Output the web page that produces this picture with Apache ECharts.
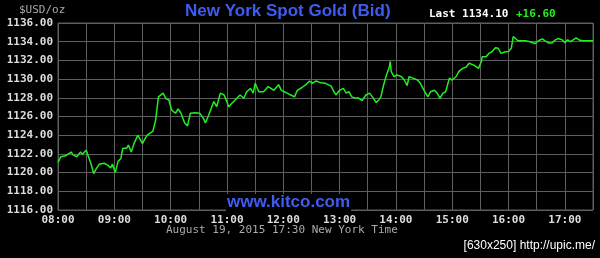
<!DOCTYPE html>
<html>
<head>
<meta charset="utf-8">
<script src="https://cdn.jsdelivr.net/npm/echarts@6/dist/echarts.min.js"></script>
<style>
html,body{margin:0;padding:0;background:#000;}
#c{width:600px;height:258px;}
</style>
</head>
<body>
<div id="c"></div>
<script>
// Times (New York) and bid prices
var times = ["08:00","08:03","08:08","08:14","08:16","08:20","08:24","08:26","08:30","08:32","08:35","08:38","08:41","08:44","08:49","08:53","08:56","08:58",
"09:01","09:04","09:07","09:09","09:13","09:15","09:18","09:21","09:25","09:30","09:32","09:35","09:37","09:41","09:44","09:47","09:52","09:55","09:58",
"10:01","10:05","10:08","10:11","10:15","10:18","10:21","10:26","10:31","10:35","10:37","10:40","10:46","10:49","10:53","10:57",
"11:02","11:05","11:09","11:14","11:18","11:21","11:25","11:28","11:30","11:34","11:39","11:44","11:50","11:52","11:55","11:58",
"12:01","12:04","12:08","12:12","12:15","12:20","12:24","12:28","12:31","12:35","12:40","12:45","12:51","12:54","12:56",
"13:00","13:04","13:07","13:10","13:13","13:17","13:20","13:24","13:28","13:32","13:35","13:39","13:42","13:44","13:47","13:50","13:53","13:54","13:55","13:58",
"14:01","14:03","14:06","14:09","14:12","14:14","14:18","14:23","14:26","14:30","14:34","14:37","14:41","14:44","14:47","14:50","14:53","14:57",
"15:00","15:04","15:07","15:11","15:15","15:18","15:23","15:28","15:31","15:32","15:36","15:39","15:42","15:46","15:49","15:52","15:56",
"16:00","16:03","16:05","16:07","16:10","16:12","16:18","16:23","16:28","16:32","16:36","16:39","16:43","16:46","16:50","16:53","16:57",
"17:00","17:03","17:06","17:09","17:12","17:16","17:20","17:30"];
var prices = [1121.1,1121.7,1121.8,1122.2,1121.9,1121.7,1122.2,1121.95,1122.4,1122.2,1121.0,1119.9,1120.45,1120.9,1121.0,1120.8,1120.5,1120.9,
1120.0,1121.2,1121.5,1122.6,1122.6,1122.95,1122.2,1123.1,1124.0,1123.1,1123.5,1124.0,1123.8,1124.4,1125.6,1128.1,1128.5,1127.9,1127.8,
1126.7,1126.35,1126.8,1126.35,1125.3,1125.0,1126.35,1126.4,1126.35,1125.8,1125.3,1126.0,1127.6,1127.05,1128.5,1128.3,
1127.05,1127.4,1127.8,1128.3,1127.95,1128.65,1129.0,1128.5,1129.55,1128.65,1128.65,1129.2,1128.8,1128.75,1129.4,1128.8,
1128.65,1128.5,1128.3,1128.1,1128.8,1129.1,1129.4,1129.8,1129.55,1129.8,1129.6,1129.55,1129.25,1128.65,1128.3,
1128.8,1129.0,1128.5,1128.65,1128.1,1127.95,1128.0,1127.7,1128.3,1128.5,1128.1,1127.5,1127.8,1128.1,1129.4,1130.45,1131.3,1131.9,1130.8,1130.25,
1130.45,1130.6,1130.25,1129.9,1129.3,1130.25,1130.1,1129.9,1129.55,1128.8,1128.1,1128.65,1128.8,1128.5,1127.95,1128.5,1128.65,1130.1,
1129.9,1130.25,1130.8,1131.15,1131.3,1131.7,1131.5,1131.15,1131.85,1132.4,1132.4,1132.75,1132.9,1133.35,1133.3,1132.75,1132.9,
1132.95,1133.3,1134.55,1134.55,1134.1,1134.2,1134.1,1134.0,1133.8,1134.1,1134.3,1134.1,1133.85,1133.85,1134.2,1134.35,1134.2,
1133.9,1134.2,1134.0,1134.2,1134.4,1134.15,1134.1,1134.1];
var yTicks = [1116,1118,1120,1122,1124,1126,1128,1130,1132,1134,1136];
var hourLabels = ["08:00","09:00","10:00","11:00","12:00","13:00","14:00","15:00","16:00","17:00"];
var titleText = "New York Spot Gold (Bid)";
var lastText = "Last 1134.10";
var changeText = "+16.60";
var unitText = "$USD/oz";
var footerText = "August 19, 2015 17:30 New York Time";
var siteText = "www.kitco.com";
var creditText = "[630x250] http://upic.me/";

function toMin(s){var p=s.split(':');return (+p[0])*60+(+p[1]);}
var data = times.map(function(t,i){return [toMin(t), prices[i]];});

var mono = "'DejaVu Sans Mono', monospace";
var chart = echarts.init(document.getElementById('c'), null, {renderer:'canvas'});
chart.setOption({
  backgroundColor:'#000',
  animation:false,
  grid:{left:58, top:23, right:7, bottom:48, show:true, borderColor:'#5e5e5e', borderWidth:1, backgroundColor:'#000'},
  xAxis:{type:'value', min:480, max:1050, interval:30,
    axisLine:{show:false}, axisTick:{show:false},
    splitLine:{show:true, lineStyle:{color:'#5e5e5e', width:1}},
    axisLabel:{color:'#dddddd', fontFamily:mono, fontSize:11, fontWeight:'bold', margin:5,
      formatter:function(v){ if(v%60!==0) return ''; var h=v/60; var s=(h<10?'0':'')+h+':00'; return hourLabels.indexOf(s)>=0?s:''; }}
  },
  yAxis:{type:'value', min:yTicks[0], max:yTicks[yTicks.length-1], interval:2,
    axisLine:{show:false}, axisTick:{show:false},
    splitLine:{show:true, lineStyle:{color:'#5e5e5e', width:1}},
    axisLabel:{color:'#dddddd', fontFamily:mono, fontSize:11, fontWeight:'bold', margin:5,
      formatter:function(v){return v.toFixed(2);}}
  },
  series:[{type:'line', data:data, showSymbol:false, smooth:false,
    lineStyle:{color:'#22ee22', width:1.5}, z:3}],
  graphic:[
    {type:'text', left:290-105, top:3, style:{text:titleText, fill:'#3f5cf0', font:"bold 17px 'Liberation Sans', Arial, sans-serif"}},
    {type:'text', left:19, top:5, style:{text:unitText, fill:'#aaaaaa', font:"11px "+mono}},
    {type:'text', left:429, top:9, style:{text:lastText, fill:'#ffffff', font:"bold 11px "+mono}},
    {type:'text', left:516, top:9, style:{text:changeText, fill:'#22ee22', font:"bold 11px "+mono}},
    {type:'text', left:226, top:194, z:10, style:{text:siteText, fill:'#3f5cf0', font:"bold 17px 'Liberation Sans', Arial, sans-serif", backgroundColor:'#000', padding:[0,1,0,1]}},
    {type:'text', left:166, top:225, style:{text:footerText, fill:'#aaaaaa', font:"11px "+mono}},
    {type:'text', right:5, top:240, style:{text:creditText, fill:'#ffffff', font:"12px 'Liberation Sans', Arial, sans-serif"}}
  ]
});
</script>
</body>
</html>
